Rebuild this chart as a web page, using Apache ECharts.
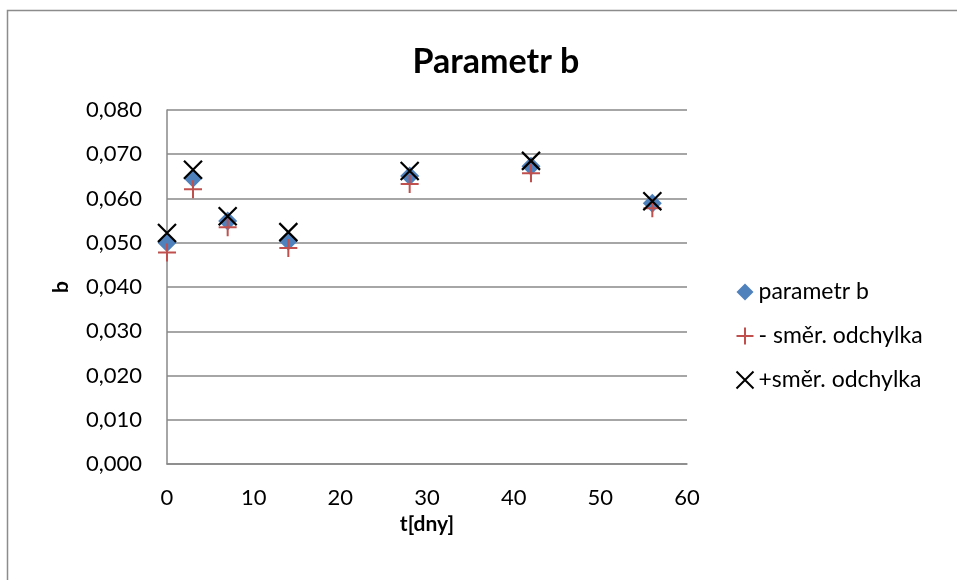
<!DOCTYPE html>
<html>
<head>
<meta charset="utf-8">
<script src="https://cdn.jsdelivr.net/npm/echarts@6/dist/echarts.min.js"></script>
<style>
  html, body { margin: 0; padding: 0; background: #fff; }
  #chart { width: 957px; height: 580px; }
</style>
</head>
<body>
<div id="chart"></div>
<script>
// t [dny]
const days = [0, 3, 7, 14, 28, 42, 56]
// parametr b
const paramB = [0.0500, 0.0646, 0.0549, 0.0504, 0.0651, 0.0673, 0.0589]
// - směr. odchylka
const minusSd = [0.0478, 0.0621, 0.0535, 0.0488, 0.0633, 0.0657, 0.0578]
// + směr. odchylka
const plusSd = [0.0522, 0.0665, 0.0560, 0.0524, 0.0662, 0.0685, 0.0594]

const seriesNames = ["parametr b", "- směr. odchylka", "+směr. odchylka"]

const font = "Lato, 'Open Sans', sans-serif"
const gridColor = "#888888"

const pairs = (ys) => days.map((d, i) => [d, ys[i]])

const myChart = echarts.init(document.getElementById("chart"))

const option = {
  backgroundColor: "#fff",
  animation: false,
  graphic: [
    {
      type: "rect",
      shape: { x: 7.5, y: 10.5, width: 1000, height: 700 },
      style: { fill: "none", stroke: "#8c8c8c", lineWidth: 1.5 },
      silent: true,
    },
  ],
  title: {
    text: "Parametr b",
    left: 491,
    textAlign: "center",
    top: 40,
    textStyle: { fontFamily: font, fontSize: 34, fontWeight: "bold", color: "#000" },
  },
  legend: {
    orient: "vertical",
    left: 729,
    top: 275,
    itemWidth: 17,
    itemHeight: 17,
    itemGap: 20,
    data: seriesNames,
    textStyle: { fontFamily: font, fontSize: 23, color: "#000", lineHeight: 24 },
  },
  grid: { left: 167, right: 270, top: 110, bottom: 116 },
  xAxis: {
    type: "value",
    min: 0,
    max: 60,
    interval: 10,
    name: "t[dny]",
    nameLocation: "middle",
    nameGap: 48,
    nameTextStyle: { fontFamily: font, fontSize: 21, fontWeight: "bold", color: "#000" },
    axisLine: { lineStyle: { color: gridColor, width: 1.5 } },
    axisTick: { show: false },
    axisLabel: { fontFamily: font, fontSize: 22, color: "#000", margin: 23 },
    splitLine: { show: false },
  },
  yAxis: {
    type: "value",
    min: 0,
    max: 0.08,
    interval: 0.01,
    name: "b",
    nameLocation: "middle",
    nameGap: 95,
    nameRotate: 90,
    nameTextStyle: { fontFamily: font, fontSize: 21, fontWeight: "bold", color: "#000" },
    axisLine: { show: true, lineStyle: { color: gridColor, width: 1.5 } },
    axisTick: { show: false },
    axisLabel: {
      fontFamily: font,
      fontSize: 22,
      color: "#000",
      margin: 25,
      formatter: (v) => v.toFixed(3).replace(".", ","),
    },
    splitLine: { lineStyle: { color: gridColor, width: 1.5 } },
  },
  series: [
    {
      name: seriesNames[0],
      type: "scatter",
      data: pairs(paramB),
      symbol: "diamond",
      symbolSize: 19,
      itemStyle: { color: "#4F81BD", opacity: 1 },
      z: 2,
    },
    {
      name: seriesNames[1],
      type: "scatter",
      data: pairs(minusSd),
      symbol: "path://M0,5L10,5M5,0L5,10",
      symbolSize: 18,
      itemStyle: { color: "none", borderColor: "#C0504D", borderWidth: 2, opacity: 1 },
      z: 3,
    },
    {
      name: seriesNames[2],
      type: "scatter",
      data: pairs(plusSd),
      symbol: "path://M0,0L10,10M10,0L0,10",
      symbolSize: 18,
      itemStyle: { color: "none", borderColor: "#000", borderWidth: 2.2, opacity: 1 },
      z: 4,
    },
  ],
}

myChart.setOption(option)
</script>
</body>
</html>
